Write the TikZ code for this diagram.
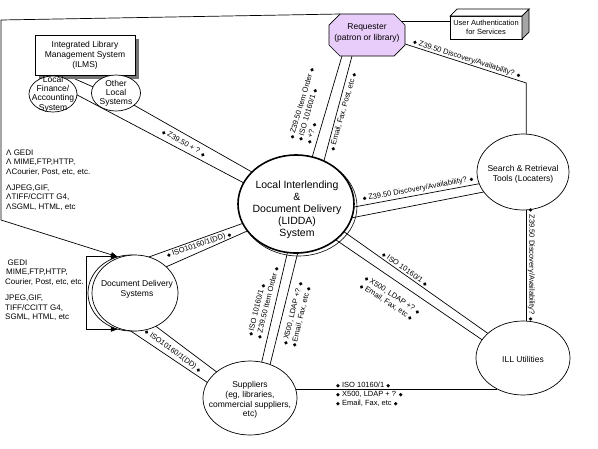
\documentclass[tikz,border=0pt]{standalone}
\usepackage{fontspec}
\setmainfont{Liberation Sans}
\newfontfamily\dejavu{DejaVu Sans}
\usetikzlibrary{shapes.geometric,calc,backgrounds,arrows.meta,shadows}
\newcommand{\dm}{{\dejavu\fontsize{5}{5}\selectfont ◆}}
\definecolor{lav}{RGB}{232,204,250}
\begin{document}
\begin{tikzpicture}[x=1pt,y=-1pt,
  conn/.style={line width=0.7pt},
  tipA/.style={-{Triangle[length=7pt,width=5pt]}},
  ellnode/.style={ellipse, draw, fill=white, line width=0.7pt, inner sep=0pt, outer sep=0pt},
  txt/.style={align=center, inner sep=0pt, font=\fontsize{8.5}{10}\selectfont},
  lbl/.style={inner sep=0pt, font=\fontsize{7.5}{9}\selectfont},
  blk/.style={inner sep=0pt, align=left, anchor=north west, font=\fontsize{8}{9.5}\selectfont},
]
\useasboundingbox (0,0) rectangle (598,448);

% ---------- nodes ----------
\node[draw, fill=white, line width=0.7pt, minimum width=100pt, minimum height=40pt,
      inner sep=0pt, outer sep=0pt,
      drop shadow={shadow xshift=4pt, shadow yshift=-4pt, fill=black!55, opacity=1},
      txt] (ilms) at (85,55) {Integrated Library\\Management System\\(ILMS)};

\node[ellnode, minimum width=48pt, minimum height=36pt] (lf) at (53,94) {};
\node[txt, font=\fontsize{8.5}{9.3}\selectfont] (lft) at (53,94) {Local\\Finance/\\Accounting\\System};
\node[ellnode, minimum width=49pt, minimum height=36pt] (ol) at (116,93) {};
\node[txt, font=\fontsize{8.5}{9}\selectfont] (olt) at (116,93.5) {Other\\Local\\Systems};

% Requester (octagon)
\node[minimum width=76pt, minimum height=42pt, inner sep=0pt, outer sep=0pt] (req) at (367,35) {};
\draw[line width=0.7pt, fill=lav]
  ($(req.north west)+(11,0)$) -- ($(req.north east)+(-11,0)$) -- ($(req.north east)+(0,11)$)
  -- ($(req.south east)+(0,-11)$) -- ($(req.south east)+(-11,0)$) -- ($(req.south west)+(11,0)$)
  -- ($(req.south west)+(0,-11)$) -- ($(req.north west)+(0,11)$) -- cycle;
\node[txt, font=\fontsize{8.5}{11}\selectfont] (reqt) at (367,33) {Requester\\(patron or library)};

\node[draw, fill=white, line width=0.7pt, minimum width=72pt, minimum height=23pt,
      inner sep=0pt, outer sep=0pt, align=center,
      font=\fontsize{7.5}{8.5}\selectfont] (ua) at (486,27.5) {User Authentication\\for Services};
\draw[line width=0.7pt, fill=white] (ua.north west) -- ++(7,-7) -- ($(ua.north east)+(7,-7)$) -- (ua.north east) -- cycle;
\draw[line width=0.7pt, fill=black!35] (ua.north east) -- ++(7,-7) -- ($(ua.south east)+(7,-7)$) -- (ua.south east) -- cycle;

\node[ellipse, draw, line width=0.6pt, minimum width=117pt, minimum height=99pt, inner sep=0pt] (liddab) at (298.5,206.5) {};
\node[ellnode, line width=1.6pt, minimum width=116pt, minimum height=98pt] (lidda) at (296,204) {};
\node[txt, font=\fontsize{10.5}{12}\selectfont] (liddat) at (297,210) {Local Interlending\\\&\\Document Delivery\\(LIDDA)\\System};

\node[ellnode, minimum width=92pt, minimum height=76pt] (sr) at (523,172) {};
\node[txt] (srt) at (523,174) {Search \& Retrieval\\Tools (Locaters)};

\node[ellnode, minimum width=94pt, minimum height=74pt] (ill) at (523,358) {};
\node[txt] (illt) at (523,359) {ILL Utilities};

\node[ellnode, minimum width=94pt, minimum height=74pt] (sup) at (250,398) {};
\node[txt, font=\fontsize{8.5}{9.7}\selectfont] (supt) at (250,400) {Suppliers\\(eg, libraries,\\commercial suppliers,\\etc)};

\node[ellnode, minimum width=86pt, minimum height=76pt] (ddb) at (131,293) {};
\node[ellnode, minimum width=86pt, minimum height=76pt] (dd) at (135,293) {};
\node[txt] (ddt) at (137,289) {Document Delivery\\Systems};

% ---------- connectors ----------
\begin{pgfonlayer}{background}
\fill[white] (0,0) rectangle (598,448);
\draw[conn] ($(ilms.south)+(-10,4)$) -- (ol.165);
\draw[conn] (ol.-34) -- (lidda.144);
\draw[conn] (lf.-2) -- (lidda.158);
\draw[conn,tipA] ($(req.north west)+(11,0)$) -- (1,20) -- (1,220) -- (ddb.110);
\draw[conn,{Triangle[length=7pt,width=5pt]}-{Triangle[length=7pt,width=5pt]}]
   (ddb.110) -- (ddb.110 -| 86,0) -- (ddb.-110 -| 86,0) -- (ddb.-110);
\coordinate (uaL) at ($(ua.west)+(0,-6.5)$);
\draw[conn] (req.center |- uaL) -- (uaL);
\draw[conn] ($(req.south)+(-25,0)$) -- (lidda.71);
\draw[conn] ($(req.south)+(-15,0)$) -- (lidda.57);
\draw[conn] ($(req.east)+(-3,8)$) -- (sr.85 |- 0,83) -- (sr.85);
\draw[conn] (lidda.-3) -- (sr.195);
\draw[conn] (lidda.-14) -- (sr.207);
\draw[conn] (sr.-85) -- (sr.-85 |- ill.north);
\draw[conn] (lidda.-30) -- (ill.145);
\draw[conn] (lidda.-42) -- (ill.156);
\draw[conn] (dd.69) -- (lidda.200);
\draw[conn] (dd.40) -- (lidda.209);
\draw[conn] (dd.-97) -- (sup.160);
\draw[conn] (dd.-58) -- (sup.142);
\draw[conn] (lidda.-100) -- (sup.72);
\draw[conn] (lidda.-88) -- (sup.59);
\draw[conn] (sup.11) -- (sup.11 -| ill.230);
\end{pgfonlayer}

% ---------- labels ----------
\node[lbl, rotate=-29.5] (t1) at (184,143) {\dm\ Z39.50 + ? \dm};
\node[lbl, rotate=73.5, align=left] (t2) at (310,106) {\dm\ Z39.50 Item Order \dm\\\dm\ ISO 10160/1 \dm\\\dm\ +? \dm};
\node[lbl, rotate=74] (t3) at (343,112) {\dm\ Email, Fax, Post, etc \dm};
\node[lbl, rotate=-17.5] (t4) at (467,59) {\dm\ Z39.50 Discovery/Availability? \dm};
\node[lbl, rotate=10.3] (t5) at (418,189) {\dm\ Z39.50 Discovery/Availability? \dm};
\node[lbl, rotate=-90, anchor=south] (t6) at (527.5,265) {\dm\ Z39.50 Discovery/Availability? \dm};
\node[lbl, rotate=-35] (t7) at (405,269) {\dm\ ISO 10160/1 \dm};
\node[lbl, rotate=-33, align=left] (t8) at (390,299) {\dm\ X500, LDAP +? \dm\\\dm\ Email, Fax, etc \dm};
\node[lbl, rotate=19] (t9) at (199,245) {\dm\ ISO10160/1(DD) \dm};
\node[lbl, rotate=-36] (t10) at (173,351) {\dm\ ISO10160/1(DD) \dm};
\node[lbl, rotate=76, align=left] (t11) at (263,302) {\dm\ ISO 10160/1 \dm\\\dm\ Z39.50 Item Order \dm};
\node[lbl, rotate=76, align=left] (t12) at (297,315) {\dm\ X500, LDAP +? \dm\\\dm\ Email, Fax, etc \dm};
\node[lbl, align=left, anchor=north west] (t13) at (336,382) {\dm\ ISO 10160/1 \dm\\\dm\ X500, LDAP + ? \dm\\\dm\ Email, Fax, etc \dm};

\node[blk] (g1) at (6,149.5) {Λ GEDI\\Λ MIME,FTP,HTTP,\\ΛCourier, Post, etc, etc.\\[6.5pt]ΛJPEG,GIF,\\ΛTIFF/CCITT G4,\\ΛSGML, HTML, etc};
\node[blk] (g2) at (5,259.5) {\hspace{2.5pt}GEDI\\\hspace{1pt}MIME,FTP,HTTP,\\Courier, Post, etc, etc.\\[7pt]JPEG,GIF,\\TIFF/CCITT G4,\\SGML, HTML, etc};
\end{tikzpicture}
\end{document}
